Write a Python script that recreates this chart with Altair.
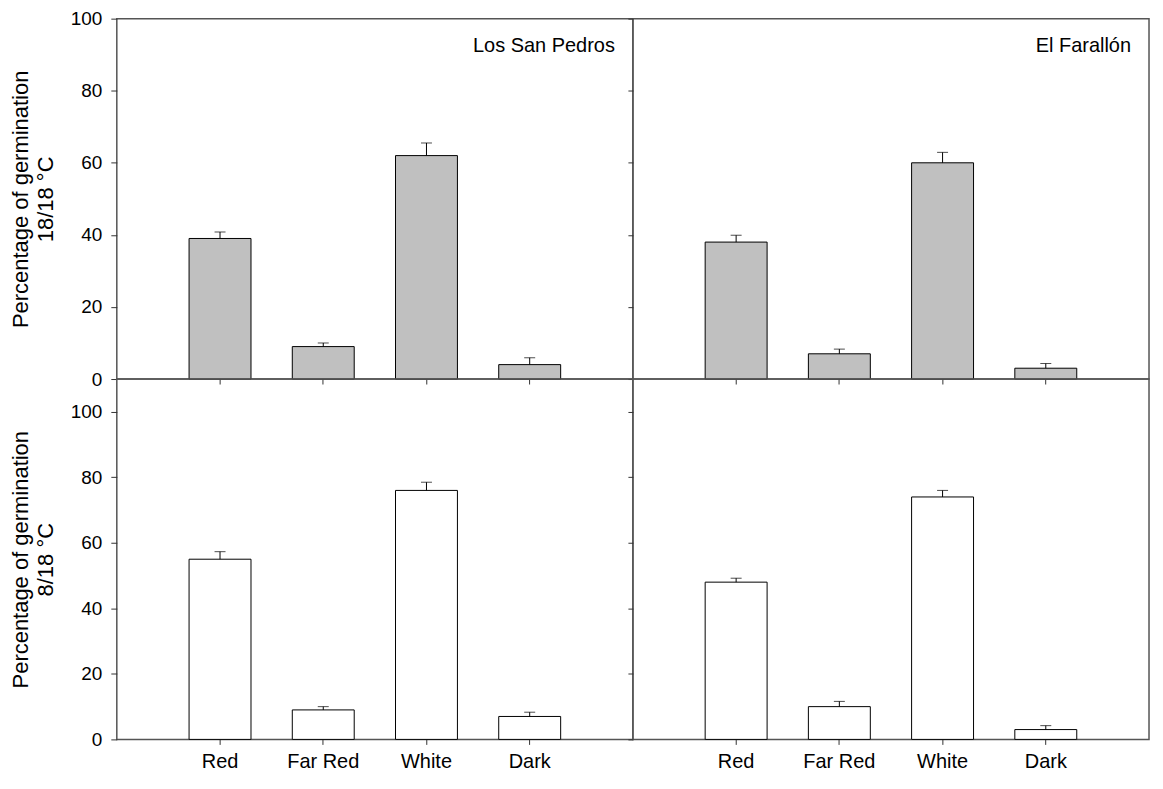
import altair as alt
import pandas as pd

categories = ["Red", "Far Red", "White", "Dark"]

lsp_18 = [39, 9, 62, 4]
lsp_18_se = [1.8, 1.0, 3.5, 1.9]
ef_18 = [38, 7, 60, 3]
ef_18_se = [1.9, 1.3, 2.9, 1.3]

lsp_8 = [55, 9, 76, 7]
lsp_8_se = [2.3, 1.0, 2.5, 1.3]
ef_8 = [48, 10, 74, 3]
ef_8_se = [1.2, 1.6, 2.0, 1.2]

y_ticks = [0, 20, 40, 60, 80, 100]

FONT = "Liberation Sans"
W = 517
H = 361


def panel(values, se, fill, ymax, site, ytitle, show_xlabels):
    df = pd.DataFrame({"cat": categories, "value": values, "se": se})
    df["hi"] = df["value"] + df["se"]
    base = alt.Chart(df)
    x = alt.X(
        "cat:N",
        sort=categories,
        scale=alt.Scale(paddingInner=0.4, paddingOuter=0.7),
        axis=alt.Axis(
            title=None,
            labels=show_xlabels,
            labelAngle=0,
            domain=False,
            ticks=True,
            tickSize=5,
            tickColor="#333333",
            labelFontSize=20,
            labelPadding=7,
        ),
    )
    if ytitle is not None:
        yaxis = alt.Axis(
            values=y_ticks,
            title=ytitle,
            grid=False,
            domain=False,
            tickSize=6,
            tickColor="#333333",
            labelFontSize=19,
            labelPadding=9,
            titleFontSize=22,
            titleLineHeight=25,
            titlePadding=13,
        )
    else:
        yaxis = alt.Axis(
            values=y_ticks,
            title=None,
            labels=False,
            grid=False,
            domain=False,
            tickSize=5,
            tickColor="#333333",
        )
    y = alt.Y("value:Q", scale=alt.Scale(domain=[0, ymax], nice=False), axis=yaxis)

    bars = base.mark_bar(fill=fill, stroke="black", strokeWidth=1).encode(x=x, y=y)
    err = base.mark_rule(color="black", strokeWidth=1).encode(
        x=alt.X("cat:N", sort=categories), y="value:Q", y2="hi:Q"
    )
    cap = base.mark_tick(color="black", thickness=1, size=11, orient="horizontal").encode(
        x=alt.X("cat:N", sort=categories), y="hi:Q"
    )
    label = alt.Chart(pd.DataFrame({"site": [site]})).mark_text(
        align="right", baseline="middle", fontSize=20, font=FONT, color="black"
    ).encode(x=alt.value(W - 18), y=alt.value(27), text="site:N")
    return alt.layer(bars, err, cap, label).properties(width=W, height=H)


tl = panel(lsp_18, lsp_18_se, "#c0c0c0", 100, "Los San Pedros",
           ["Percentage of germination", "18/18 °C"], False)
tr = panel(ef_18, ef_18_se, "#c0c0c0", 100, "El Farallón", None, False)
bl = panel(lsp_8, lsp_8_se, "white", 110, "",
           ["Percentage of germination", "8/18 °C"], True)
br = panel(ef_8, ef_8_se, "white", 110, "", None, True)

chart = alt.concat(tl, tr, bl, br, columns=2, spacing=0, bounds="flush").properties(
    padding={"left": 0, "top": 0, "right": 5, "bottom": 5},
    background="white",
).configure_view(
    stroke="#555555", strokeWidth=1.5
).configure_axis(
    labelFont=FONT,
    titleFont=FONT,
    labelColor="black",
    titleColor="black",
    titleFontWeight="normal",
)

chart.save("out.html", embed_options={"renderer": "svg", "actions": False})
